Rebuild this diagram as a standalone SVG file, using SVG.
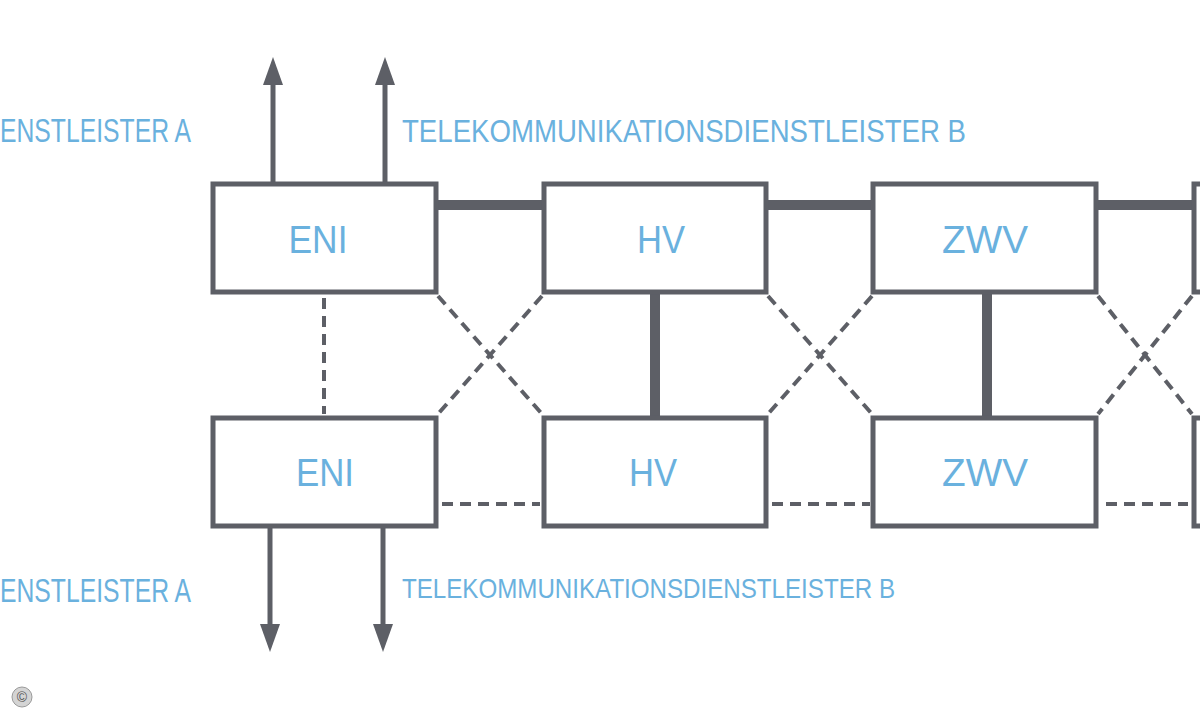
<svg xmlns="http://www.w3.org/2000/svg" width="1200" height="720" viewBox="0 0 1200 720">
<style>
.box{fill:#ffffff;stroke:#5d5f66;stroke-width:5}
.thick{stroke:#5d5f66;stroke-width:10;fill:none}
.dash{stroke:#5d5f66;stroke-width:4;stroke-dasharray:11 7;fill:none}
.arr{stroke:#5d5f66;stroke-width:5;fill:none}
.head{fill:#5d5f66}
.lbl{font-family:"Liberation Sans",Arial,sans-serif;fill:#6ab1de;font-size:39px;text-anchor:middle}
.cap{font-family:"Liberation Sans",Arial,sans-serif;fill:#6ab1de}
</style>
<rect width="1200" height="720" fill="#ffffff"/>
<g id="connectors">
  <line class="thick" x1="436" y1="205" x2="544" y2="205"/>
  <line class="thick" x1="766" y1="205" x2="873" y2="205"/>
  <line class="thick" x1="1096" y1="205" x2="1194" y2="205"/>
  <line class="thick" x1="655" y1="292" x2="655" y2="418"/>
  <line class="thick" x1="987" y1="292" x2="987" y2="418"/>
  <line class="dash" x1="324" y1="298" x2="324" y2="414"/>
  <line class="dash" x1="438" y1="296" x2="542" y2="414"/>
  <line class="dash" x1="542" y1="296" x2="438" y2="414"/>
  <line class="dash" x1="768" y1="296" x2="872" y2="414"/>
  <line class="dash" x1="872" y1="296" x2="768" y2="414"/>
  <line class="dash" x1="1098" y1="296" x2="1192" y2="414"/>
  <line class="dash" x1="1192" y1="296" x2="1098" y2="414"/>
  <line class="dash" x1="442" y1="504" x2="540" y2="504"/>
  <line class="dash" x1="772" y1="504" x2="870" y2="504"/>
  <line class="dash" x1="1106" y1="504" x2="1188" y2="504"/>
  <line class="arr" x1="273" y1="182" x2="273" y2="80"/>
  <polygon class="head" points="273,57 263,85 283,85"/>
  <line class="arr" x1="385" y1="182" x2="385" y2="80"/>
  <polygon class="head" points="385,57 375,85 395,85"/>
  <line class="arr" x1="270" y1="527" x2="270" y2="630"/>
  <polygon class="head" points="270,652 260,624 280,624"/>
  <line class="arr" x1="383" y1="527" x2="383" y2="630"/>
  <polygon class="head" points="383,652 373,624 393,624"/>
</g>
<g id="eni-top"><rect class="box" x="213" y="184" width="223" height="108"/><text class="lbl" x="318" y="253" textLength="59" lengthAdjust="spacingAndGlyphs">ENI</text></g>
<g id="hv-top"><rect class="box" x="544" y="184" width="222" height="108"/><text class="lbl" x="661" y="253" textLength="48" lengthAdjust="spacingAndGlyphs">HV</text></g>
<g id="zwv-top"><rect class="box" x="873" y="184" width="223" height="108"/><text class="lbl" x="985" y="253" textLength="86" lengthAdjust="spacingAndGlyphs">ZWV</text></g>
<g id="node4-top"><rect class="box" x="1194" y="184" width="30" height="108"/></g>
<g id="eni-bottom"><rect class="box" x="213" y="418" width="223" height="108"/><text class="lbl" x="325" y="486" textLength="58" lengthAdjust="spacingAndGlyphs">ENI</text></g>
<g id="hv-bottom"><rect class="box" x="544" y="418" width="222" height="108"/><text class="lbl" x="653" y="486" textLength="48" lengthAdjust="spacingAndGlyphs">HV</text></g>
<g id="zwv-bottom"><rect class="box" x="873" y="418" width="223" height="108"/><text class="lbl" x="985" y="486" textLength="86" lengthAdjust="spacingAndGlyphs">ZWV</text></g>
<g id="node4-bottom"><rect class="box" x="1194" y="418" width="30" height="108"/></g>
<g id="labels">
  <text class="cap" x="0" y="142" font-size="33" textLength="191" lengthAdjust="spacingAndGlyphs">ENSTLEISTER A</text>
  <text class="cap" x="402" y="142" font-size="32" textLength="564" lengthAdjust="spacingAndGlyphs">TELEKOMMUNIKATIONSDIENSTLEISTER B</text>
  <text class="cap" x="0" y="602" font-size="33" textLength="191" lengthAdjust="spacingAndGlyphs">ENSTLEISTER A</text>
  <text class="cap" x="402" y="598" font-size="28" textLength="493" lengthAdjust="spacingAndGlyphs">TELEKOMMUNIKATIONSDIENSTLEISTER B</text>
</g>
<g id="copyright">
  <circle cx="22" cy="697" r="10" fill="#d4d4d4" stroke="#9a9a9a" stroke-width="1"/>
  <text x="22" y="702" font-family="Liberation Sans,Arial,sans-serif" font-size="14" fill="#555555" text-anchor="middle">©</text>
</g>
</svg>
